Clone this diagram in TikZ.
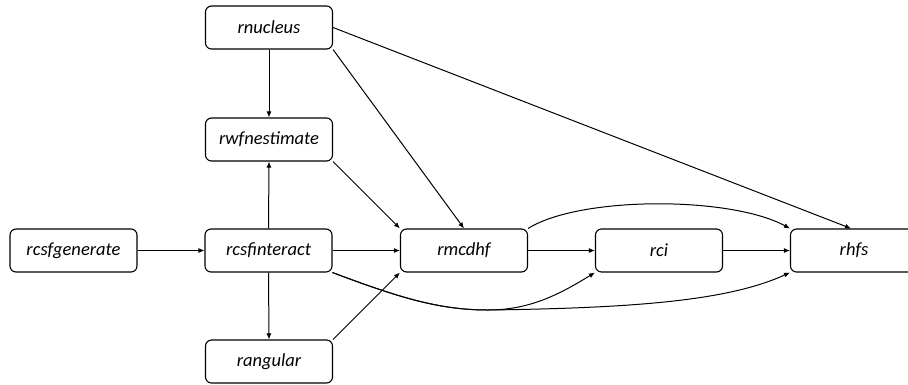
\documentclass[tikz,border=0pt]{standalone}
\usepackage{fontspec}
\setmainfont{Carlito}
\usetikzlibrary{arrows.meta}
\begin{document}
\begin{tikzpicture}[x=1pt,y=-1pt,
  box/.style={draw,line width=1.1pt,rounded corners=6pt,minimum width=127pt,minimum height=43pt,inner sep=0pt,font=\fontsize{18.5}{21}\selectfont\itshape},
  arr/.style={line width=1pt,-{Latex[length=6pt,width=5pt]}}]
\useasboundingbox (0,0) rectangle (908,384);
\node[box] (gen) at (73.5,250.5) {rcsfgenerate};
\node[box] (int) at (268.5,250.5) {rcsfinteract};
\node[box] (nuc) at (269,27.5) {rnucleus};
\node[box] (wfn) at (269,139.5) {rwfnestimate};
\node[box] (ang) at (269,361.5) {rangular};
\node[box] (mcd) at (464,250.5) {rmcdhf};
\node[box] (rci) at (659,250.5) {rci};
\node[box] (hfs) at (854,250.5) {rhfs};
\coordinate (hfstop) at ([xshift=-3pt]hfs.north);
\coordinate (low) at (488,310);
\draw[arr] (gen) -- (int);
\draw[arr] (nuc.south) -- (wfn.north);
\draw[arr] (int.north) -- (wfn.south);
\draw[arr] (int.south) -- (ang.north);
\draw[arr] (int) -- (mcd);
\draw[arr] (mcd) -- (rci);
\draw[arr] (rci) -- (hfs);
\draw[arr] (wfn.south east) -- (mcd.north west);
\draw[arr] (ang.north east) -- (mcd.south west);
\draw[arr] (nuc.south east) -- (mcd.north);
\draw[arr] (nuc.east) -- (hfstop);
\draw[arr] (mcd.north east) .. controls (580,196) and (730,196) .. (hfs.north west);
\draw[arr] (int.south east) .. controls (400,298) and (440,310) .. (low) .. controls (530,310) and (560,294) .. (rci.south west);
\draw[arr] (int.south east) .. controls (400,298) and (440,310) .. (low) .. controls (640,308) and (730,300) .. (hfs.south west);
\end{tikzpicture}
\end{document}
